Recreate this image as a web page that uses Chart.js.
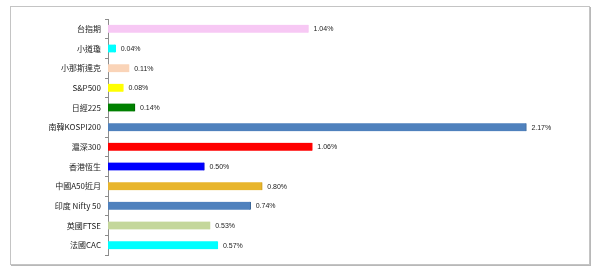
<!DOCTYPE html>
<html>
<head>
<meta charset="utf-8">
<script src="https://cdn.jsdelivr.net/npm/chart.js@4"></script>
<style>
  body { margin: 0; background: #fff; }
  #frame { position: absolute; left: 10px; top: 6px; width: 578px; height: 257px;
           border: 1px solid #c4c4c4; box-shadow: 1px 1px 0 #b8b8b8; }
  #wrap { position: absolute; left: 0; top: 0; width: 600px; height: 278px; }
</style>
</head>
<body>
<div id="frame"></div>
<div id="wrap"><canvas id="chart1" width="600" height="278"></canvas></div>
<script>
// 各指數漲跌幅
const categories = ['台指期', '小道瓊', '小那斯達克', 'S&P500', '日經225', '南韓KOSPI200',
  '滬深300', '香港恆生', '中國A50近月', '印度 Nifty 50', '英國FTSE', '法國CAC'];
const changes = [1.04, 0.04, 0.11, 0.08, 0.14, 2.17, 1.06, 0.50, 0.80, 0.74, 0.53, 0.57];
const barColors = ['#f7c8f4', '#00ffff', '#fad4b8', '#ffff00', '#008000', '#4f81bd',
  '#ff0000', '#0000ff', '#e8b52c', '#4f81bd', '#c4d79b', '#00ffff'];
const borderColors = ['#f7c8f4', '#00ffff', '#fad4b8', '#ffff00', '#006400', '#3a6699',
  '#ff0000', '#0000cc', '#c89a1e', '#3a6699', '#c4d79b', '#00ffff'];

// 在長條右邊寫上數值
const valueLabels = {
  id: 'valueLabels',
  afterDatasetsDraw(chart) {
    const ctx = chart.ctx;
    const meta = chart.getDatasetMeta(0);
    ctx.save();
    ctx.font = '7px "Liberation Sans", Arial, sans-serif';
    ctx.fillStyle = '#222';
    ctx.textBaseline = 'middle';
    meta.data.forEach((bar, i) => {
      ctx.fillText(changes[i].toFixed(2) + '%', bar.x + 5, bar.y + 0.5);
    });
    ctx.restore();
  }
};

const ctx = document.getElementById('chart1').getContext('2d');
new Chart(ctx, {
  type: 'bar',
  data: {
    labels: categories,
    datasets: [{
      data: changes,
      backgroundColor: barColors,
      borderColor: borderColors,
      borderWidth: { right: 1, top: 0, bottom: 0, left: 0 },
      borderSkipped: false,
      barThickness: 8
    }]
  },
  options: {
    indexAxis: 'y',
    responsive: false,
    animation: false,
    devicePixelRatio: 1,
    layout: { padding: { top: 19, bottom: 23, right: 10, left: 0 } },
    plugins: { legend: { display: false }, tooltip: { enabled: false } },
    scales: {
      x: { display: false, min: 0, max: 2.5 },
      y: {
        afterFit(scale) { scale.width = 108; },
        border: { color: '#8c8c8c', width: 1 },
        grid: { drawOnChartArea: false, tickLength: 3, color: '#8c8c8c' },
        ticks: {
          color: '#222',
          padding: 4,
          font: { size: 8, family: '"Noto Sans CJK TC", "Liberation Sans", sans-serif' }
        }
      }
    }
  },
  plugins: [valueLabels]
});
</script>
</body>
</html>
